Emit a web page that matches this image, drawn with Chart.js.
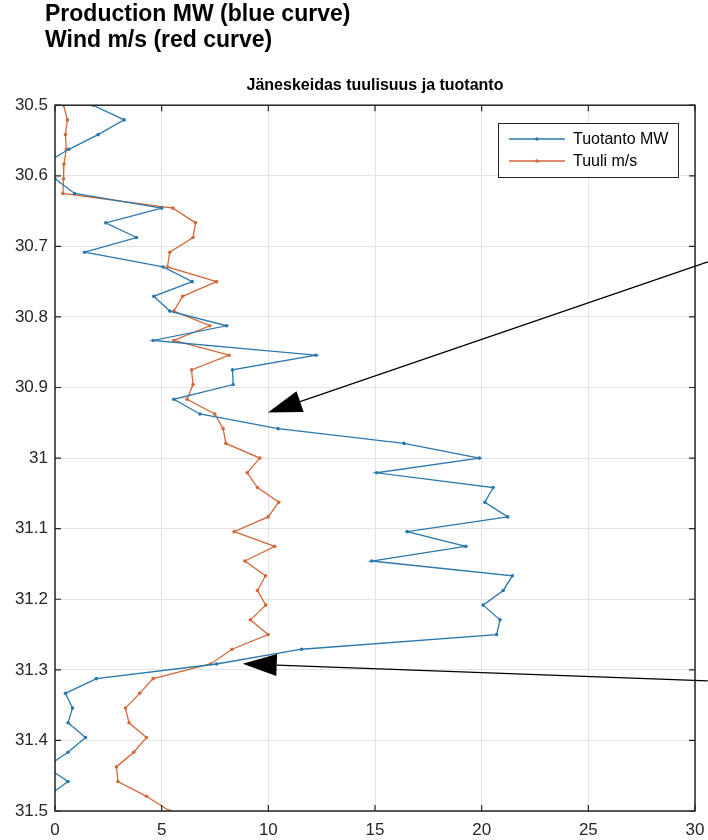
<!DOCTYPE html>
<html>
<head>
<meta charset="utf-8">
<script src="https://cdn.jsdelivr.net/npm/chart.js@4/dist/chart.umd.min.js"></script>
<style>
    html, body { margin: 0; padding: 0; background: #fff; }
    #wrap { position: relative; width: 708px; height: 840px; }
    #head {
        position: absolute; left: 45px; top: 0;
        font: bold 23px 'Liberation Sans', Arial, sans-serif;
        line-height: 26px; color: #000;
    }
    canvas { position: absolute; left: 0; top: 0; }
</style>
</head>
<body>
<div id="wrap">
    <canvas id="chart" width="708" height="840"></canvas>
    <div id="head">Production MW (blue curve)<br>Wind m/s (red curve)</div>
</div>
<script>
// sample times (days), one every half hour
const times = [30.5, 30.5208, 30.5417, 30.5625, 30.5833, 30.6042, 30.625, 30.6458, 30.6667, 30.6875,
    30.7083, 30.7292, 30.75, 30.7708, 30.7917, 30.8125, 30.8333, 30.8542, 30.875, 30.8958,
    30.9167, 30.9375, 30.9583, 30.9792, 31.0, 31.0208, 31.0417, 31.0625, 31.0833, 31.1042,
    31.125, 31.1458, 31.1667, 31.1875, 31.2083, 31.2292, 31.25, 31.2708, 31.2917, 31.3125,
    31.3333, 31.3542, 31.375, 31.3958, 31.4167, 31.4375, 31.4583, 31.4792, 31.5]

const tuotanto = [1.78, 3.24, 2.02, 0.65, -0.5, 0.0, 0.92, 5.0, 2.38, 3.82,
    1.39, 5.07, 6.43, 4.63, 5.38, 8.04, 4.6, 12.23, 8.32, 8.35,
    5.57, 6.79, 10.46, 16.36, 19.89, 15.07, 20.54, 20.15, 21.22, 16.51,
    19.25, 14.84, 21.44, 21.01, 20.07, 20.86, 20.7, 11.56, 7.57, 1.94,
    0.49, 0.82, 0.61, 1.43, 0.61, -0.4, 0.61, -0.35, -0.3]

const tuuli = [0.4, 0.58, 0.49, 0.53, 0.42, 0.4, 0.37, 5.53, 6.59, 6.47,
    5.38, 5.27, 7.57, 5.98, 5.57, 7.26, 5.57, 8.16, 6.4, 6.47,
    6.19, 7.49, 7.88, 8.01, 9.6, 9.01, 9.49, 10.49, 9.99, 8.4,
    10.3, 8.9, 9.87, 9.49, 9.88, 9.16, 9.99, 8.3, 7.29, 4.6,
    3.97, 3.3, 3.47, 4.29, 3.69, 2.88, 2.95, 4.29, 5.38]

const seriesNames = ['Tuotanto MW', 'Tuuli m/s']
const seriesColors = ['#2a78ad', '#d2693a']
const xTicks = [0, 5, 10, 15, 20, 25, 30]

// arrow annotations: [tail, tip] in data units
const arrows = [
    [{ x: 30.6, y: 30.722 }, { x: 9.98, y: 30.9355 }],
    [{ x: 30.6, y: 31.3155 }, { x: 8.80, y: 31.2915 }],
]

const font = "'Liberation Sans', Arial, sans-serif"

const toPoints = values => values.map((v, i) => ({ x: v, y: times[i] }))

const datasets = [tuotanto, tuuli].map((values, i) => ({
    label: seriesNames[i],
    data: toPoints(values),
    showLine: true,
    borderColor: seriesColors[i],
    backgroundColor: seriesColors[i],
    borderWidth: 1.3,
    pointRadius: 1.8,
    pointBorderWidth: 0,
    tension: 0,
}))

const boxPlugin = {
    id: 'matlabBox',
    afterDatasetsDraw(chart) {
        const { ctx, chartArea: a, scales: { x, y } } = chart
        ctx.save()
        ctx.strokeStyle = '#262626'
        ctx.lineWidth = 1.5
        ctx.strokeRect(a.left, a.top, a.right - a.left, a.bottom - a.top)

        ctx.lineWidth = 1.2
        ctx.beginPath()
        for (const t of xTicks) {
            const px = x.getPixelForValue(t)
            ctx.moveTo(px, a.bottom); ctx.lineTo(px, a.bottom - 6)
            ctx.moveTo(px, a.top); ctx.lineTo(px, a.top + 6)
        }
        for (const t of y.ticks) {
            const py = y.getPixelForValue(t.value)
            ctx.moveTo(a.left, py); ctx.lineTo(a.left + 6, py)
            ctx.moveTo(a.right, py); ctx.lineTo(a.right - 6, py)
        }
        ctx.stroke()

        // legend box inside the axes
        const lx = 498, ly = 123, lw = 180, lh = 54
        ctx.fillStyle = '#fff'
        ctx.fillRect(lx, ly, lw, lh)
        ctx.strokeStyle = '#262626'
        ctx.lineWidth = 1
        ctx.strokeRect(lx + 0.5, ly + 0.5, lw, lh)
        ctx.font = '16px ' + font
        ctx.textBaseline = 'middle'
        chart.data.datasets.forEach((ds, i) => {
            const cy = ly + 16 + i * 22
            ctx.strokeStyle = ds.borderColor
            ctx.lineWidth = 1.3
            ctx.beginPath()
            ctx.moveTo(lx + 11, cy); ctx.lineTo(lx + 67, cy)
            ctx.stroke()
            ctx.fillStyle = ds.borderColor
            ctx.beginPath()
            ctx.arc(lx + 39, cy, 1.8, 0, Math.PI * 2)
            ctx.fill()
            ctx.fillStyle = '#000'
            ctx.fillText(ds.label, lx + 75, cy + 1)
        })
        ctx.restore()
    },
    afterDraw(chart) {
        const { ctx, scales: { x, y } } = chart
        ctx.save()
        ctx.strokeStyle = '#000'
        ctx.fillStyle = '#000'
        ctx.lineWidth = 1.2
        for (const [tail, tip] of arrows) {
            const x0 = x.getPixelForValue(tail.x), y0 = y.getPixelForValue(tail.y)
            const x1 = x.getPixelForValue(tip.x), y1 = y.getPixelForValue(tip.y)
            const len = Math.hypot(x1 - x0, y1 - y0)
            const ux = (x1 - x0) / len, uy = (y1 - y0) / len
            const hl = 34, hw = 11
            const bx = x1 - ux * hl, by = y1 - uy * hl
            ctx.beginPath()
            ctx.moveTo(x0, y0); ctx.lineTo(bx, by)
            ctx.stroke()
            ctx.beginPath()
            ctx.moveTo(x1, y1)
            ctx.lineTo(bx - uy * hw, by + ux * hw)
            ctx.lineTo(bx + uy * hw, by - ux * hw)
            ctx.closePath()
            ctx.fill()
        }
        ctx.restore()
    }
}

Chart.defaults.font.family = font

new Chart(document.getElementById('chart'), {
    type: 'scatter',
    data: { datasets },
    options: {
        responsive: false,
        animation: false,
        devicePixelRatio: 1,
        layout: { padding: { top: 76, right: 13, left: 0, bottom: 0 } },
        scales: {
            x: {
                type: 'linear', min: 0, max: 30,
                afterBuildTicks: scale => { scale.ticks = xTicks.map(value => ({ value })) },
                afterFit: scale => {
                    scale.height = 29
                    scale.paddingLeft = 0
                    scale.paddingRight = 0
                },
                grid: { color: '#e4e4e4', drawTicks: false },
                border: { display: false },
                ticks: { color: '#262626', font: { size: 17 }, padding: 9 },
            },
            y: {
                type: 'linear', min: 30.5, max: 31.5, reverse: true,
                afterFit: scale => {
                    scale.width = 55
                    scale.paddingTop = 0
                    scale.paddingBottom = 0
                },
                grid: { color: '#e4e4e4', drawTicks: false },
                border: { display: false },
                ticks: {
                    stepSize: 0.1, color: '#262626', font: { size: 17 }, padding: 7,
                    callback: v => String(Number(v.toFixed(1))),
                },
            },
        },
        plugins: {
            legend: { display: false },
            tooltip: { enabled: false },
            title: {
                display: true,
                fullSize: false,
                text: 'Jäneskeidas tuulisuus ja tuotanto',
                color: '#000',
                font: {
                    family: "'Liberation Sans Narrow', 'Liberation Sans', Arial, sans-serif",
                    size: 16, weight: 'bold', lineHeight: 1.2,
                },
                padding: { top: 0, bottom: 10 },
            },
        },
    },
    plugins: [boxPlugin],
})
</script>
</body>
</html>
